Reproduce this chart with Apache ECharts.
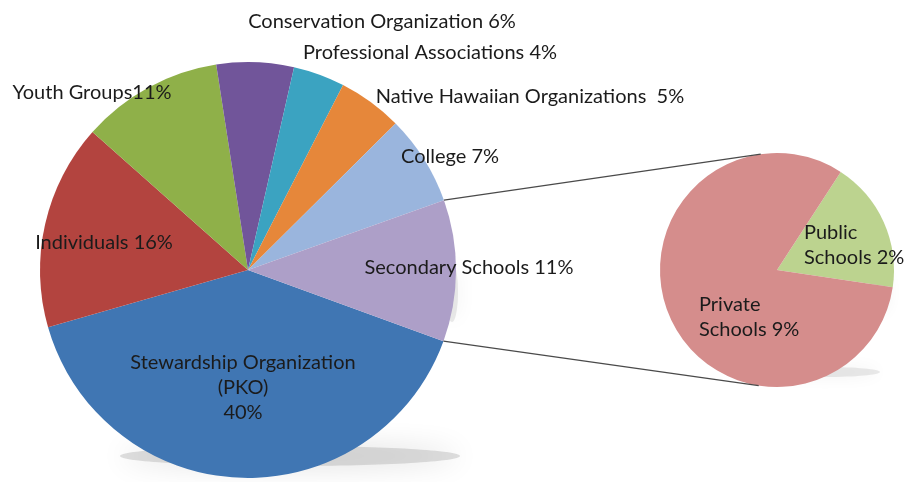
<!DOCTYPE html>
<html>
<head>
<meta charset="utf-8">
<script src="https://cdn.jsdelivr.net/npm/echarts@6/dist/echarts.min.js"></script>
<style>
html,body{margin:0;padding:0;background:#fff;}
#chart{width:913px;height:482px;}
</style>
</head>
<body>
<div id="chart"></div>
<script>
// ---- data ----
const categories = ['Stewardship Organization (PKO)', 'Individuals', 'Youth Groups', 'Conservation Organization', 'Professional Associations', 'Native Hawaiian Organizations', 'College', 'Secondary Schools'];
const values = [40, 16, 11, 6, 4, 5, 7, 11];
const labelTexts = ['Stewardship Organization\n(PKO)\n40%', 'Individuals 16%', 'Youth Groups11%', 'Conservation Organization 6%', 'Professional Associations 4%', 'Native Hawaiian Organizations  5%', 'College 7%', 'Secondary Schools 11%'];
const subCategories = ['Public Schools', 'Private Schools'];
const subValues = [2, 9];
const subLabelTexts = ['Public\nSchools 2%', 'Private\nSchools 9%'];

// ---- styles / layout ----
const mainColors = ['#4076b3', '#b3443f', '#8fb049', '#71559a', '#3ba3c1', '#e6873a', '#9ab5dd', '#ad9fc8'];
const subColors = ['#bcd38f', '#d58d8c'];
const mainC = [248, 270], mainR = 208, mainStart = -20;
const subC = [777, 270], subR = 117, subStart = 57;
const mainLabelPos = [[243, 388, 'center'], [104, 243, 'center'], [92, 93, 'center'], [382, 22, 'center'], [430, 53, 'center'], [530, 97, 'center'], [450, 157, 'center'], [469, 268, 'center']];
const subLabelPos = [[804, 245, 'left'], [699, 317, 'left']];
const font = 'Lato, "Open Sans", sans-serif';

const total = values.reduce((a, b) => a + b, 0);
const secIdx = categories.length - 1;
const secAngle = values[secIdx] / total * 360;
const rad = d => d * Math.PI / 180;
function pt(c, r, deg) { return [c[0] + r * Math.cos(rad(deg)), c[1] - r * Math.sin(rad(deg))]; }
const topMain = pt(mainC, mainR, mainStart + secAngle);
const botMain = pt(mainC, mainR, mainStart);
const topSub = pt(subC, subR, 98);
const botSub = pt(subC, subR, -99);

const labelStyle = {
  show: true,
  position: 'inside',
  overflow: 'none',
  color: '#1b1b1b',
  fontFamily: font,
  fontSize: 20,
  lineHeight: 25
};

const chart = echarts.init(document.getElementById('chart'));
chart.setOption({
  backgroundColor: '#fff',
  animation: false,
  graphic: [
    { type: 'ellipse', z: -10, shape: { cx: 290, cy: 456, rx: 170, ry: 10 }, style: { fill: 'rgba(150,150,150,0.3)', shadowBlur: 28, shadowColor: 'rgba(0,0,0,0.45)' } },
    { type: 'ellipse', z: -10, shape: { cx: 452, cy: 292, rx: 6, ry: 30 }, style: { fill: 'rgba(150,150,150,0.2)', shadowBlur: 20, shadowColor: 'rgba(0,0,0,0.3)' } },
    { type: 'ellipse', z: -10, shape: { cx: 880, cy: 292, rx: 8, ry: 22 }, style: { fill: 'rgba(150,150,150,0.2)', shadowBlur: 16, shadowColor: 'rgba(0,0,0,0.3)' } },
    { type: 'ellipse', z: -10, shape: { cx: 825, cy: 372, rx: 55, ry: 5 }, style: { fill: 'rgba(150,150,150,0.2)', shadowBlur: 16, shadowColor: 'rgba(0,0,0,0.3)' } },
    { type: 'line', z: 10, shape: { x1: topMain[0], y1: topMain[1], x2: topSub[0], y2: topSub[1] }, style: { stroke: '#4a4a4a', lineWidth: 1.3 } },
    { type: 'line', z: 10, shape: { x1: botMain[0], y1: botMain[1], x2: botSub[0], y2: botSub[1] }, style: { stroke: '#4a4a4a', lineWidth: 1.3 } }
  ],
  series: [
    {
      type: 'pie',
      center: mainC,
      radius: mainR,
      startAngle: mainStart,
      clockwise: true,
      silent: true,
      avoidLabelOverlap: false,
      data: categories.map((n, i) => ({ name: n, value: values[i], itemStyle: { color: mainColors[i] } })),
      itemStyle: { borderWidth: 0 },
      label: Object.assign({}, labelStyle, { formatter: p => labelTexts[p.dataIndex] }),
      labelLine: { show: false },
      labelLayout: p => ({ x: mainLabelPos[p.dataIndex][0], y: mainLabelPos[p.dataIndex][1], align: mainLabelPos[p.dataIndex][2], verticalAlign: 'middle', hideOverlap: false })
    },
    {
      type: 'pie',
      center: subC,
      radius: subR,
      startAngle: subStart,
      clockwise: true,
      silent: true,
      avoidLabelOverlap: false,
      data: subCategories.map((n, i) => ({ name: n, value: subValues[i], itemStyle: { color: subColors[i] } })),
      itemStyle: { borderWidth: 0 },
      label: Object.assign({}, labelStyle, { formatter: p => subLabelTexts[p.dataIndex] }),
      labelLine: { show: false },
      labelLayout: p => ({ x: subLabelPos[p.dataIndex][0], y: subLabelPos[p.dataIndex][1], align: subLabelPos[p.dataIndex][2], verticalAlign: 'middle', hideOverlap: false })
    }
  ]
});
</script>
</body>
</html>
